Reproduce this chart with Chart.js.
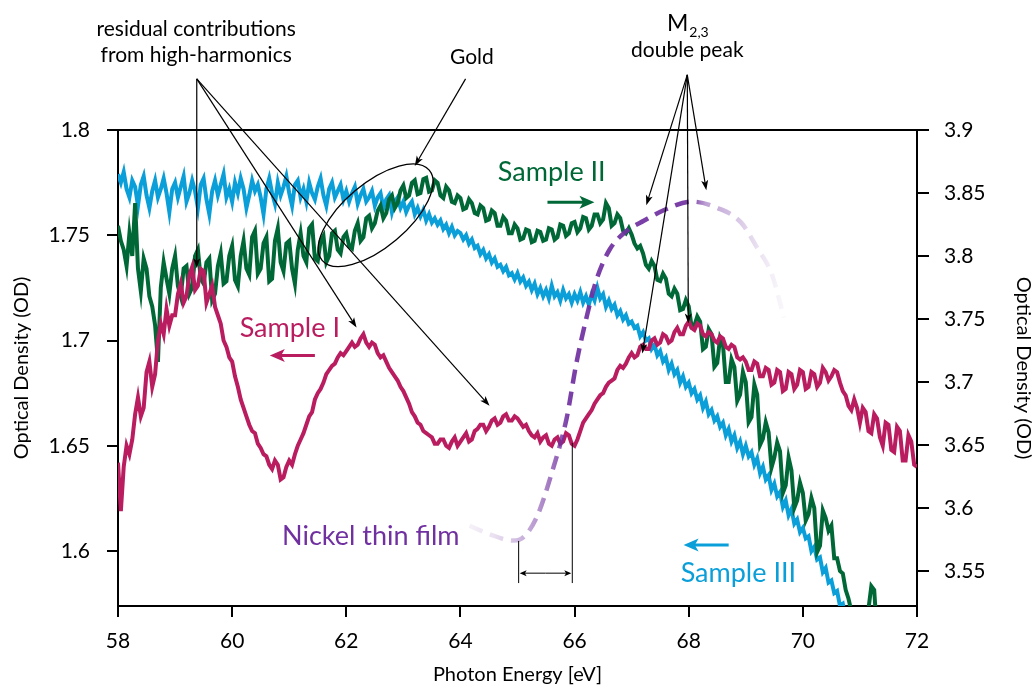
<!DOCTYPE html>
<html>
<head>
<meta charset="utf-8">
<script src="https://cdn.jsdelivr.net/npm/chart.js@4.4.1/dist/chart.umd.min.js"></script>
<style>
  body { margin: 0; background: #fff; }
  #chart { display: block; }
</style>
</head>
<body>
<canvas id="chart" width="1035" height="689"></canvas>
<script>
// photon energy grid [eV], 0.05 eV spacing
const energy = [
  58.00,58.05,58.10,58.15,58.20,58.25,58.30,58.35,58.40,58.45,58.50,58.55,58.60,58.65,58.70,58.75,58.80,58.85,58.90,58.95,
  59.00,59.05,59.10,59.15,59.20,59.25,59.30,59.35,59.40,59.45,59.50,59.55,59.60,59.65,59.70,59.75,59.80,59.85,59.90,59.95,
  60.00,60.05,60.10,60.15,60.20,60.25,60.30,60.35,60.40,60.45,60.50,60.55,60.60,60.65,60.70,60.75,60.80,60.85,60.90,60.95,
  61.00,61.05,61.10,61.15,61.20,61.25,61.30,61.35,61.40,61.45,61.50,61.55,61.60,61.65,61.70,61.75,61.80,61.85,61.90,61.95,
  62.00,62.05,62.10,62.15,62.20,62.25,62.30,62.35,62.40,62.45,62.50,62.55,62.60,62.65,62.70,62.75,62.80,62.85,62.90,62.95,
  63.00,63.05,63.10,63.15,63.20,63.25,63.30,63.35,63.40,63.45,63.50,63.55,63.60,63.65,63.70,63.75,63.80,63.85,63.90,63.95,
  64.00,64.05,64.10,64.15,64.20,64.25,64.30,64.35,64.40,64.45,64.50,64.55,64.60,64.65,64.70,64.75,64.80,64.85,64.90,64.95,
  65.00,65.05,65.10,65.15,65.20,65.25,65.30,65.35,65.40,65.45,65.50,65.55,65.60,65.65,65.70,65.75,65.80,65.85,65.90,65.95,
  66.00,66.05,66.10,66.15,66.20,66.25,66.30,66.35,66.40,66.45,66.50,66.55,66.60,66.65,66.70,66.75,66.80,66.85,66.90,66.95,
  67.00,67.05,67.10,67.15,67.20,67.25,67.30,67.35,67.40,67.45,67.50,67.55,67.60,67.65,67.70,67.75,67.80,67.85,67.90,67.95,
  68.00,68.05,68.10,68.15,68.20,68.25,68.30,68.35,68.40,68.45,68.50,68.55,68.60,68.65,68.70,68.75,68.80,68.85,68.90,68.95,
  69.00,69.05,69.10,69.15,69.20,69.25,69.30,69.35,69.40,69.45,69.50,69.55,69.60,69.65,69.70,69.75,69.80,69.85,69.90,69.95,
  70.00,70.05,70.10,70.15,70.20,70.25,70.30,70.35,70.40,70.45,70.50,70.55,70.60,70.65,70.70,70.75,70.80,70.85,70.90,70.95,
  71.00,71.05,71.10,71.15,71.20,71.25,71.30,71.35,71.40,71.45,71.50,71.55,71.60,71.65,71.70,71.75,71.80,71.85,71.90,71.95,
  72.00
];

// Sample I, left axis
const sample1OD = [
  1.642,1.619,1.640,1.650,1.646,1.653,1.665,1.673,1.664,1.668,1.685,1.690,1.678,1.684,1.700,1.708,1.703,1.715,1.707,1.712,
  1.712,1.722,1.727,1.718,1.721,1.731,1.735,1.724,1.726,1.734,1.733,1.718,1.722,1.726,1.716,1.712,1.708,1.700,1.697,1.692,
  1.690,1.683,1.678,1.672,1.668,1.664,1.660,1.657,1.656,1.651,1.649,1.646,1.645,1.641,1.639,1.643,1.641,1.634,1.635,1.640,
  1.643,1.641,1.646,1.650,1.653,1.656,1.660,1.664,1.666,1.672,1.675,1.677,1.680,1.684,1.686,1.688,1.689,1.692,1.694,1.693,
  1.695,1.697,1.699,1.697,1.698,1.701,1.703,1.699,1.697,1.699,1.698,1.694,1.692,1.693,1.690,1.687,1.685,1.683,1.681,1.678,
  1.676,1.673,1.670,1.666,1.664,1.661,1.660,1.657,1.656,1.655,1.654,1.651,1.651,1.653,1.653,1.650,1.649,1.652,1.654,1.650,
  1.652,1.654,1.656,1.652,1.653,1.657,1.658,1.660,1.660,1.657,1.659,1.662,1.663,1.660,1.661,1.664,1.665,1.662,1.662,1.664,
  1.663,1.661,1.659,1.660,1.657,1.655,1.654,1.656,1.652,1.654,1.655,1.651,1.650,1.653,1.654,1.651,1.652,1.656,1.655,1.651,
  1.650,1.653,1.657,1.661,1.663,1.665,1.667,1.670,1.672,1.674,1.675,1.678,1.680,1.681,1.682,1.686,1.688,1.687,1.689,1.692,
  1.694,1.692,1.693,1.697,1.698,1.696,1.696,1.700,1.701,1.698,1.699,1.703,1.702,1.699,1.700,1.704,1.706,1.703,1.703,1.707,
  1.709,1.706,1.705,1.708,1.707,1.703,1.702,1.704,1.703,1.700,1.699,1.702,1.701,1.697,1.696,1.698,1.697,1.692,1.691,1.692,
  1.690,1.686,1.686,1.690,1.689,1.683,1.683,1.687,1.686,1.679,1.680,1.686,1.685,1.676,1.677,1.685,1.684,1.677,1.679,1.686,
  1.685,1.677,1.678,1.685,1.684,1.678,1.680,1.687,1.685,1.681,1.683,1.686,1.685,1.680,1.676,1.674,1.669,1.667,1.672,1.668,
  1.661,1.668,1.666,1.657,1.656,1.665,1.663,1.654,1.650,1.661,1.660,1.648,1.647,1.659,1.657,1.643,1.643,1.655,1.652,1.641,
  1.640
];

// Sample II, right axis
const sample2OD = [
  3.824,3.812,3.805,3.792,3.818,3.800,3.842,3.790,3.772,3.798,3.790,3.768,3.760,3.745,3.716,3.775,3.795,3.782,3.770,3.790,
  3.800,3.776,3.768,3.790,3.792,3.770,3.775,3.800,3.805,3.782,3.778,3.795,3.798,3.765,3.770,3.792,3.802,3.778,3.780,3.800,
  3.808,3.781,3.776,3.800,3.812,3.790,3.785,3.815,3.820,3.786,3.790,3.810,3.815,3.780,3.782,3.812,3.822,3.795,3.788,3.810,
  3.812,3.790,3.778,3.805,3.818,3.800,3.795,3.822,3.825,3.798,3.796,3.812,3.816,3.795,3.800,3.818,3.820,3.805,3.802,3.815,
  3.818,3.808,3.806,3.820,3.826,3.812,3.815,3.830,3.832,3.822,3.826,3.836,3.840,3.830,3.834,3.845,3.848,3.838,3.842,3.852,
  3.856,3.846,3.848,3.858,3.860,3.849,3.850,3.861,3.862,3.851,3.852,3.860,3.858,3.848,3.846,3.855,3.852,3.843,3.842,3.848,
  3.846,3.837,3.838,3.845,3.842,3.834,3.833,3.840,3.838,3.828,3.829,3.836,3.834,3.824,3.824,3.831,3.828,3.818,3.818,3.825,
  3.822,3.813,3.814,3.821,3.820,3.811,3.812,3.820,3.819,3.812,3.813,3.822,3.821,3.813,3.815,3.825,3.824,3.816,3.818,3.826,
  3.827,3.819,3.822,3.831,3.830,3.821,3.824,3.833,3.833,3.826,3.829,3.842,3.838,3.824,3.826,3.833,3.830,3.820,3.818,3.822,
  3.817,3.810,3.806,3.808,3.802,3.793,3.790,3.796,3.792,3.781,3.780,3.786,3.782,3.770,3.768,3.774,3.770,3.757,3.758,3.765,
  3.760,3.744,3.745,3.752,3.748,3.726,3.728,3.742,3.738,3.712,3.715,3.735,3.730,3.700,3.700,3.718,3.712,3.685,3.690,3.708,
  3.700,3.668,3.672,3.698,3.690,3.650,3.655,3.668,3.660,3.632,3.640,3.652,3.645,3.612,3.618,3.640,3.630,3.600,3.606,3.620,
  3.612,3.590,3.595,3.608,3.600,3.565,3.570,3.598,3.592,3.582,3.586,3.560,3.560,3.550,3.548,3.535,3.528,3.518,3.515,3.508,
  3.505,3.500,3.510,3.520,3.538,3.535,3.500
];

// Sample III, left axis
const sample3OD = [
  1.779,1.775,1.780,1.772,1.768,1.776,1.773,1.764,1.774,1.778,1.769,1.763,1.771,1.776,1.768,1.772,1.777,1.770,1.761,1.772,
  1.775,1.768,1.773,1.778,1.766,1.770,1.776,1.771,1.763,1.774,1.777,1.767,1.760,1.771,1.776,1.769,1.774,1.779,1.768,1.772,
  1.766,1.775,1.770,1.777,1.772,1.763,1.769,1.776,1.771,1.774,1.768,1.760,1.772,1.777,1.770,1.765,1.775,1.769,1.773,1.778,
  1.770,1.764,1.774,1.776,1.768,1.772,1.766,1.775,1.770,1.767,1.773,1.777,1.769,1.764,1.772,1.775,1.768,1.771,1.774,1.767,
  1.771,1.766,1.770,1.773,1.765,1.769,1.772,1.766,1.768,1.771,1.764,1.768,1.770,1.763,1.767,1.769,1.761,1.766,1.768,1.763,
  1.766,1.761,1.764,1.766,1.760,1.763,1.759,1.762,1.757,1.760,1.756,1.758,1.755,1.757,1.753,1.755,1.751,1.754,1.750,1.752,
  1.751,1.748,1.750,1.746,1.748,1.744,1.745,1.741,1.743,1.739,1.741,1.737,1.739,1.735,1.736,1.733,1.735,1.731,1.732,1.729,
  1.732,1.728,1.730,1.726,1.728,1.724,1.727,1.722,1.725,1.721,1.724,1.720,1.726,1.721,1.723,1.719,1.724,1.720,1.722,1.718,
  1.722,1.719,1.723,1.718,1.721,1.717,1.722,1.719,1.725,1.720,1.722,1.716,1.719,1.715,1.717,1.712,1.714,1.710,1.712,1.708,
  1.709,1.706,1.707,1.702,1.704,1.700,1.701,1.696,1.698,1.693,1.695,1.690,1.692,1.686,1.689,1.684,1.686,1.680,1.683,1.678,
  1.680,1.675,1.677,1.672,1.674,1.668,1.671,1.665,1.667,1.662,1.664,1.659,1.661,1.655,1.658,1.652,1.655,1.649,1.652,1.646,
  1.650,1.645,1.647,1.641,1.644,1.637,1.640,1.634,1.636,1.629,1.632,1.626,1.628,1.621,1.624,1.617,1.620,1.613,1.615,1.609,
  1.611,1.606,1.607,1.600,1.602,1.596,1.597,1.590,1.592,1.585,1.586,1.580,1.581,1.574,1.575,1.568,1.566
];

// Nickel thin film reference (dashed), left axis units
const nickelEnergy = [64.16,64.51,64.91,65.04,65.33,65.61,65.86,66.03,66.21,66.38,66.61,66.91,67.22,67.57,68.05,68.50,68.92,69.20,69.45,69.67];
const nickelOD     = [1.612,1.608,1.605,1.6055,1.6157,1.638,1.663,1.689,1.711,1.7286,1.743,1.752,1.757,1.762,1.766,1.763,1.756,1.744,1.732,1.711];

const xTicks = [58, 60, 62, 64, 66, 68, 70, 72];
const odTicks = [1.6, 1.65, 1.7, 1.75, 1.8];
const od2Ticks = [3.55, 3.6, 3.65, 3.7, 3.75, 3.8, 3.85, 3.9];

const MAGENTA = '#b91c5f';
const GREEN = '#006837';
const BLUE = '#0a9fd8';
const PURPLE = '112,48,160';

Chart.defaults.font.family = 'Lato';
Chart.defaults.color = '#000';

function pts(xs, ys) {
  return ys.map((v, i) => ({ x: xs[i], y: v }));
}

function nickelColor(context) {
  const chart = context.chart;
  if (!chart.chartArea) return 'rgb(' + PURPLE + ')';
  const xs = chart.scales.x;
  const x0 = xs.getPixelForValue(64.1), x1 = xs.getPixelForValue(69.75);
  const g = chart.ctx.createLinearGradient(x0, 0, x1, 0);
  const stop = (e, a) => g.addColorStop((xs.getPixelForValue(e) - x0) / (x1 - x0), 'rgba(' + PURPLE + ',' + a + ')');
  stop(64.1, 0.06); stop(64.6, 0.15); stop(65.05, 0.35); stop(65.35, 0.5);
  stop(65.65, 0.7); stop(65.9, 0.92); stop(68.05, 0.92); stop(68.3, 0.45);
  stop(68.75, 0.3); stop(69.1, 0.18); stop(69.45, 0.08); stop(69.75, 0.03);
  return g;
}

function head(c, x0, y0, x1, y1, len, half) {
  const a = Math.atan2(y1 - y0, x1 - x0);
  const cs = Math.cos(a), sn = Math.sin(a);
  c.beginPath();
  c.moveTo(x1, y1);
  c.lineTo(x1 - len * cs + half * sn, y1 - len * sn - half * cs);
  c.lineTo(x1 - len * 0.75 * cs, y1 - len * 0.75 * sn);
  c.lineTo(x1 - len * cs - half * sn, y1 - len * sn + half * cs);
  c.closePath();
  c.fill();
}

function arrow(c, x0, y0, x1, y1, color, width, len, half) {
  c.strokeStyle = color; c.fillStyle = color; c.lineWidth = width;
  const a = Math.atan2(y1 - y0, x1 - x0);
  c.beginPath();
  c.moveTo(x0, y0);
  c.lineTo(x1 - len * 0.6 * Math.cos(a), y1 - len * 0.6 * Math.sin(a));
  c.stroke();
  head(c, x0, y0, x1, y1, len, half);
}

const annotate = {
  id: 'annotate',
  afterDraw(chart) {
    const c = chart.ctx;
    const { chartArea: ca, scales: { x, y } } = chart;
    const P = (e, v) => [x.getPixelForValue(e), y.getPixelForValue(v)];
    c.save();

    // top frame line
    c.strokeStyle = '#000'; c.lineWidth = 2;
    c.beginPath(); c.moveTo(ca.left - 1, ca.top); c.lineTo(ca.right + 1, ca.top); c.stroke();

    c.textAlign = 'center'; c.textBaseline = 'middle';

    // residual contributions
    c.fillStyle = '#000';
    c.font = '21px Lato';
    let p = P(59.37, 1.8481); c.fillText('residual contributions', p[0], p[1]);
    p = P(59.37, 1.8357); c.fillText('from high-harmonics', p[0], p[1]);
    const apex = P(59.38, 1.8243);
    [[59.38, 1.7343], [62.18, 1.7062], [64.51, 1.669]].forEach(t => {
      const q = P(t[0], t[1]);
      arrow(c, apex[0], apex[1], q[0], q[1], '#000', 1.2, 10, 3.5);
    });

    // Gold
    c.fillStyle = '#000'; c.font = '21px Lato';
    p = P(64.2, 1.8348); c.fillText('Gold', p[0], p[1]);
    let a0 = P(64.09, 1.8243), a1 = P(63.2, 1.7829);
    arrow(c, a0[0], a0[1], a1[0], a1[1], '#000', 1.2, 10, 3.5);
    const ec = P(62.515, 1.7595);
    c.lineWidth = 1.3; c.strokeStyle = '#000';
    c.beginPath(); c.ellipse(ec[0], ec[1], 70, 32, -0.7, 0, Math.PI * 2); c.stroke();

    // M2,3 double peak
    c.fillStyle = '#000';
    c.font = '23px Lato';
    p = P(67.975, 1.8505);
    c.textAlign = 'right'; c.fillText('M', p[0] + 1, p[1]);
    c.font = '14px Lato'; c.textAlign = 'left';
    c.fillText('2,3', p[0] + 2, p[1] + 9);
    c.font = '21px Lato'; c.textAlign = 'center';
    p = P(67.975, 1.8381); c.fillText('double peak', p[0], p[1]);
    const apex2 = P(67.975, 1.8262);
    [[67.257, 1.7643], [67.187, 1.6938], [67.993, 1.7081], [68.308, 1.7714]].forEach(t => {
      const q = P(t[0], t[1]);
      arrow(c, apex2[0], apex2[1], q[0], q[1], '#000', 1.2, 10, 3.5);
    });

    // sample labels and direction arrows
    c.font = '27px Lato';
    c.fillStyle = GREEN; p = P(65.6, 1.7800); c.fillText('Sample II', p[0], p[1]);
    a0 = P(65.525, 1.7657); a1 = P(66.348, 1.7657);
    arrow(c, a0[0], a0[1], a1[0], a1[1], GREEN, 3, 15, 6.5);

    c.fillStyle = MAGENTA; p = P(61.01, 1.7057); c.fillText('Sample I', p[0], p[1]);
    a0 = P(61.45, 1.6929); a1 = P(60.66, 1.6929);
    arrow(c, a0[0], a0[1], a1[0], a1[1], MAGENTA, 3, 15, 6.5);

    c.fillStyle = BLUE; p = P(68.87, 1.5895); c.fillText('Sample III', p[0], p[1]);
    a0 = P(68.70, 1.6029); a1 = P(67.91, 1.6029);
    arrow(c, a0[0], a0[1], a1[0], a1[1], BLUE, 3, 15, 6.5);

    c.fillStyle = 'rgb(' + PURPLE + ')'; p = P(62.43, 1.6071); c.fillText('Nickel thin film', p[0], p[1]);

    // energy shift marker
    const m1 = P(65.02, 1.6048), m2 = P(65.96, 1.6514), mb = P(65.02, 1.5848), mh = P(65.96, 1.5895);
    c.strokeStyle = '#000'; c.lineWidth = 1;
    c.beginPath();
    c.moveTo(m1[0], m1[1]); c.lineTo(m1[0], mb[1]);
    c.moveTo(m2[0], m2[1]); c.lineTo(m2[0], mb[1]);
    c.stroke();
    arrow(c, (m1[0] + m2[0]) / 2, mh[1], m1[0] + 1, mh[1], '#000', 1, 7, 3);
    arrow(c, (m1[0] + m2[0]) / 2, mh[1], m2[0] - 1, mh[1], '#000', 1, 7, 3);

    c.restore();
  }
};

const tickFmt = v => String(v);

new Chart(document.getElementById('chart').getContext('2d'), {
  type: 'line',
  data: {
    datasets: [
      {
        label: 'Nickel thin film',
        data: pts(nickelEnergy, nickelOD),
        yAxisID: 'y',
        borderColor: nickelColor,
        borderWidth: 4.5,
        borderDash: [14, 8],
        cubicInterpolationMode: 'monotone',
        pointRadius: 0,
        fill: false
      },
      {
        label: 'Sample I',
        data: pts(energy, sample1OD),
        yAxisID: 'y',
        borderColor: MAGENTA,
        borderWidth: 4,
        pointRadius: 0,
        tension: 0,
        fill: false
      },
      {
        label: 'Sample II',
        data: pts(energy, sample2OD),
        yAxisID: 'y2',
        borderColor: GREEN,
        borderWidth: 4,
        pointRadius: 0,
        tension: 0,
        fill: false
      },
      {
        label: 'Sample III',
        data: pts(energy, sample3OD),
        yAxisID: 'y',
        borderColor: BLUE,
        borderWidth: 4,
        pointRadius: 0,
        tension: 0,
        fill: false
      }
    ]
  },
  options: {
    responsive: false,
    animation: false,
    devicePixelRatio: 1,
    layout: { padding: { top: 130, left: 0, right: 0, bottom: 0 } },
    plugins: { legend: { display: false }, tooltip: { enabled: false } },
    scales: {
      x: {
        type: 'linear',
        position: 'bottom',
        min: 58,
        max: 72,
        afterBuildTicks: s => { s.ticks = xTicks.map(v => ({ value: v })); },
        afterFit: s => { s.height = 83; },
        ticks: { font: { size: 21 }, padding: 12, maxRotation: 0, autoSkip: false, callback: tickFmt },
        grid: { drawOnChartArea: false, tickLength: 11, color: '#000', lineWidth: 2 },
        border: { color: '#000', width: 2 },
        title: { display: true, text: 'Photon Energy [eV]', font: { size: 20 }, padding: { top: 0, bottom: 2 } }
      },
      y: {
        type: 'linear',
        position: 'left',
        min: 1.5739,
        max: 1.8,
        afterBuildTicks: s => { s.ticks = odTicks.map(v => ({ value: v })); },
        afterFit: s => { s.width = 118; },
        ticks: { font: { size: 21 }, padding: 17, callback: tickFmt },
        grid: { drawOnChartArea: false, tickLength: 11, color: '#000', lineWidth: 2 },
        border: { color: '#000', width: 2 },
        title: { display: true, text: 'Optical Density (OD)', font: { size: 20 }, padding: { top: 10, bottom: 0 } }
      },
      y2: {
        type: 'linear',
        position: 'right',
        min: 3.5222,
        max: 3.9,
        afterBuildTicks: s => { s.ticks = od2Ticks.map(v => ({ value: v })); },
        afterFit: s => { s.width = 118; },
        ticks: { font: { size: 21 }, padding: 15, callback: tickFmt },
        grid: { drawOnChartArea: false, tickLength: 12, color: '#000', lineWidth: 2 },
        border: { color: '#000', width: 2 },
        title: { display: true, text: 'Optical Density (OD)', font: { size: 20 }, padding: { top: 0, bottom: 0 } }
      }
    }
  },
  plugins: [annotate]
});
</script>
</body>
</html>
